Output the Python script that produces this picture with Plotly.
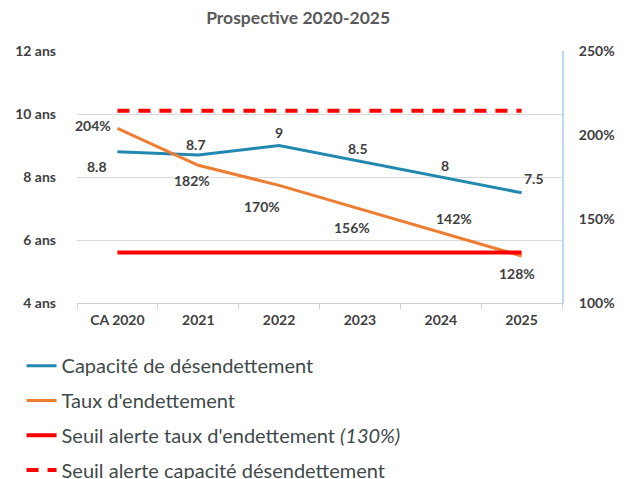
import plotly.graph_objects as go

# données
annees = ["CA 2020", "2021", "2022", "2023", "2024", "2025"]
capacite = [8.8, 8.7, 9, 8.5, 8, 7.5]           # ans
taux = [204, 182, 170, 156, 142, 128]           # %
seuil_taux = [130] * 6                          # %
seuil_capacite = [10.1] * 6                     # ans (trait pointillé)

cap_txt = ["8.8", "8.7", "9", "8.5", "8", "7.5"]
taux_txt = [f"{v}%" for v in taux]

# décalages des étiquettes (px)
cap_shift = [(-20, -15), (-2, 10), (0, 13), (-2, 13), (4, 12), (12, 14)]
taux_shift = [(-24, 3), (-6, -15), (-17, -21), (-8, -19), (13, 14), (-5, -18)]

GRIS = "#404040"
FONT_LBL = dict(family="Lato", size=14, color=GRIS, weight="bold")

fig = go.Figure()

fig.add_trace(go.Scatter(
    x=annees, y=capacite, mode="lines", name="Capacité de désendettement",
    line=dict(color="#2189b0", width=3), legendgroup="a"))
fig.add_trace(go.Scatter(
    x=annees, y=taux, mode="lines", name="Taux d'endettement", yaxis="y2",
    line=dict(color="#ed7d31", width=3), legendgroup="b"))
fig.add_trace(go.Scatter(
    x=annees, y=seuil_taux, mode="lines",
    name="Seuil alerte taux d'endettement <i>(130%)</i>", yaxis="y2",
    line=dict(color="#ff0000", width=4), legendgroup="c"))
fig.add_trace(go.Scatter(
    x=annees, y=seuil_capacite, mode="lines",
    name="Seuil alerte capacité désendettement",
    line=dict(color="#ff0000", width=4, dash="12px,9px"), legendgroup="d"))

# étiquettes (x = indice de catégorie)
for i, (y, t, (dx, dy)) in enumerate(zip(capacite, cap_txt, cap_shift)):
    fig.add_annotation(x=i, y=y, text=t, showarrow=False,
                       xshift=dx, yshift=dy, font=FONT_LBL)
for i, (y, t, (dx, dy)) in enumerate(zip(taux, taux_txt, taux_shift)):
    fig.add_annotation(x=i, y=y, yref="y2", text=t, showarrow=False,
                       xshift=dx, yshift=dy, font=FONT_LBL)

TICKFONT = dict(family="Lato", size=14, color=GRIS, weight="bold")

# la page ajoute 8 px de marge autour de la figure
fig.update_layout(
    width=616, height=471,
    margin=dict(l=69, r=62, t=43, b=176, autoexpand=False),
    paper_bgcolor="white", plot_bgcolor="white",
    title=dict(text="<b>Prospective 2020-2025</b>", x=0.471, xanchor="center",
               y=0.979, yanchor="middle", xref="container", yref="container",
               font=dict(family="Lato", size=17.5, color="#595959")),
    xaxis=dict(type="category", categoryorder="array", categoryarray=annees,
               range=[-0.5, 5.5], tickson="boundaries", ticks="outside",
               ticklen=5, tickcolor="#d0d0d0", showgrid=False,
               showline=True, linecolor="#d0d0d0", linewidth=1,
               tickfont=TICKFONT, ticklabelstandoff=4, tickangle=0),
    yaxis=dict(range=[4, 12], dtick=2, ticksuffix=" ans", showgrid=True,
               gridcolor="#d9d9d9", zeroline=False,
               tickfont=TICKFONT, ticklabelstandoff=20),
    yaxis2=dict(range=[100, 250], dtick=50, ticksuffix="%", overlaying="y",
                side="right", showgrid=False, zeroline=False,
                showline=True, linecolor="#bdd7ee", linewidth=2,
                tickfont=TICKFONT, ticklabelstandoff=12),
    legend=dict(orientation="v", x=0.022, xanchor="left", xref="container",
                y=0.282, yanchor="top", yref="container", tracegroupgap=5.8,
                font=dict(family="Lato", size=20, color="#3f4a4a")),
    showlegend=True,
)

fig.write_html("out.html")
